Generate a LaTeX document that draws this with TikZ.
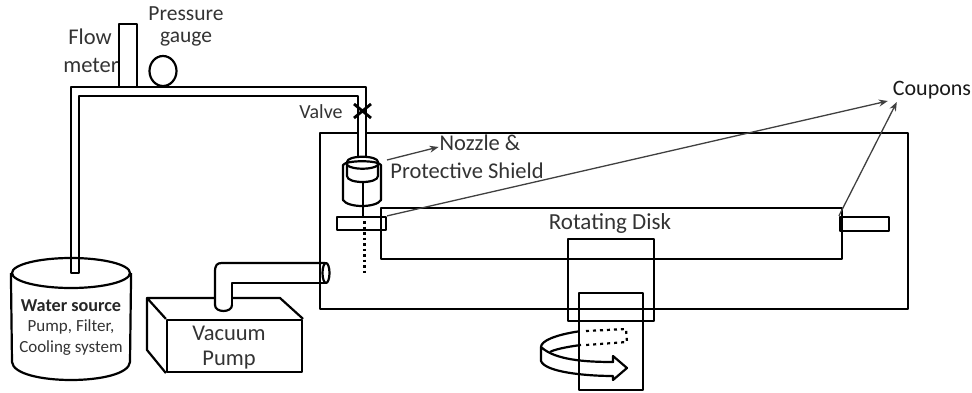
\documentclass[tikz,border=0pt]{standalone}
\usepackage{fontspec}
\setmainfont{Carlito}
\usepackage{tikz}
\usetikzlibrary{arrows.meta, shapes, positioning, calc}

\begin{document}
\begin{tikzpicture}[x=1pt, y=-1pt, line width=2.2pt, line join=round,
						every node/.style = {align=center, inner sep=0pt, text=black!80},
						boxnode/.style = {draw, rectangle, text=black},
						lbl/.style = {font=\fontsize{22.5}{20}\selectfont},
						small/.style = {font=\fontsize{17}{17}\selectfont},
						pointer/.style = {-{Stealth[length=9pt, width=7pt]}, line width=1.3pt, black!75}]
	\useasboundingbox (0,0) rectangle (972,393);
	% chamber and disk
	\node[boxnode, minimum width=588pt, minimum height=176pt] (chamber) at (614,221) {};
	\node[boxnode, minimum width=461pt, minimum height=51pt] (disk) at (611.5,233.5) {};
	\node[boxnode, minimum width=49pt, minimum height=13pt] (couponL) at (361.5,223.5) {};
	\node[boxnode, minimum width=49pt, minimum height=14pt] (couponR) at (864.5,224) {};
	\node[boxnode, minimum width=86pt, minimum height=82pt] (housing) at (611,280) {};
	\node[boxnode, minimum width=64pt, minimum height=97pt] (motor) at (611,341.5) {};
	% water pipe
	\fill[white] (71,273) -- (71,87) -- (366,87) -- (366,160) -- (358,160) -- (358,96) -- (79,96) -- (79,273) -- cycle;
	\draw (366,158) -- (366,87) -- (71,87) -- (71,273);
	\draw (358,158) -- (358,96) -- (79,96) -- (79,273);
	\draw (119,87) -- (119,24) -- (137,24) -- (137,87);
	\node[draw, ellipse, minimum width=27pt, minimum height=30pt, text=black] (gauge) at (163,71) {};
	\draw[line width=2.8pt] (354,104) -- (371,118) (354,118) -- (371,104);
	% nozzle and shield
	\draw (347,162) .. controls (347,155) and (378,155) .. (378,162) -- (378,176) .. controls (378,184) and (347,184) .. (347,176) -- cycle;
	\draw (343,165) .. controls (346,160) and (378,160) .. (381,165) -- (381,200) .. controls (376,208) and (348,208) .. (343,200) -- cycle;
	\draw (347,165) .. controls (352,170) and (373,170) .. (378,165);
	\draw[line width=2.8pt] (363,181) -- (363,217);
	\draw[line width=3pt, dash pattern=on 2.5pt off 3pt] (364,221) -- (364,275);
	% water source
	\node[draw, ellipse, minimum width=118pt, minimum height=30pt, text=black] (tanktop) at (71,273) {};
	\draw (tanktop.west) -- (12,362) .. controls (14,386) and (128,386) .. (130,362) -- (tanktop.east);
	\fill[white] (72.2,260) rectangle (77.8,272);
	\draw (71,257) -- (71,273) -- (79,273) -- (79,257);
	\node[font=\fontsize{18.2}{17}\selectfont\bfseries, text=black!85] (watersource) at (71,306) {Water source};
	\node[small] (pumpfilter) at (71,327) {Pump, Filter,};
	\node[small] (cooling) at (71,348) {Cooling system};
	% vacuum pump
	\node[boxnode, minimum width=135pt, minimum height=52pt] (vacuum) at (234.5,346) {};
	\draw (vacuum.north west) -- (147,298) -- (280,298) -- (vacuum.north east);
	\draw (147,298) -- (147,350) -- (vacuum.south west);
	\fill[white] (215,270) rectangle (232,311);
	\draw (215,305) -- (215,272) .. controls (215,265) and (217,263) .. (222,263) -- (325,263);
	\draw (232,305) -- (232,283) -- (325,283);
	\draw (215,305) .. controls (215,313) and (232,313) .. (232,305);
	\node[draw, ellipse, minimum width=7pt, minimum height=20pt, fill=white] (port) at (326,273) {};
	% rotation arrow
	\draw (motor.west |- 0,331.5) .. controls (555,335) and (541,341) .. (541,347) -- (541,361) .. controls (545,372) and (585,376) .. (613,376) -- (613,380) -- (627,368) -- (613,356) -- (613,362) .. controls (585,362) and (555,360) .. (541,347);
	\draw (581,345) .. controls (565,347) and (553,350) .. (550,352);
	\draw[dash pattern=on 3pt off 4pt] (586,331) -- (626,329) -- (627,342) -- (586,345);
	% labels
	\node[lbl] (flow) at (90,37) {Flow};
	\node[lbl] (meter) at (91,65) {meter};
	\node[font=\fontsize{21.5}{20}\selectfont] (pressure) at (186,14) {Pressure};
	\node[font=\fontsize{21.5}{20}\selectfont] (gaugetext) at (186,39) {gauge};
	\node[font=\fontsize{20}{20}\selectfont] (valve) at (321,112) {Valve};
	\node[lbl] (nozzle) at (480,143) {Nozzle \&};
	\node[lbl] (shield) at (467,171) {Protective Shield};
	\node[font=\fontsize{23}{20}\selectfont] (rotating) at (610,223) {Rotating Disk};
	\node[lbl] (vac) at (229,333) {Vacuum};
	\node[lbl] (pump) at (229,360) {Pump};
	\node[font=\fontsize{22}{20}\selectfont, text=black!90] (coupons) at (932,90) {Coupons};
	% pointers
	\coordinate (shieldtail) at (387,160);
	\draw[pointer] (shieldtail) -- (nozzle.west |- 0,147);
	\draw[pointer] (couponL.north east) -- ($(coupons.south west)+(-4,1)$);
	\draw[pointer] (couponR.north west) -- ($(coupons.south west)+(5,2)$);
\end{tikzpicture}
\end{document}
